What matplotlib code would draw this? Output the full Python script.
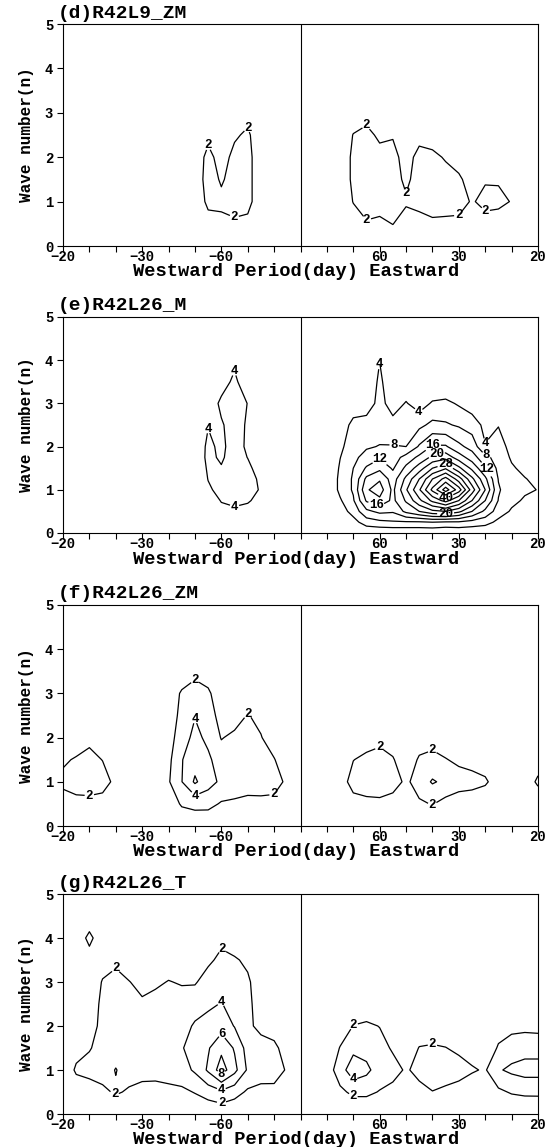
import numpy as np
import matplotlib.pyplot as plt

plt.rcParams['font.family'] = ['Liberation Mono', 'DejaVu Sans Mono']
plt.rcParams['font.weight'] = 'bold'

# frequency columns in units of 1/180 cycles per day, wave number rows
cols = np.arange(-9, 9.5, 0.5)
rows = [0, 0.5, 1, 1.5, 2, 2.5, 3, 3.5, 4, 4.5, 5]
rows_e = [0, 0.25, 0.5, 0.75, 1, 1.25, 1.5, 1.75, 2, 2.5, 3, 3.5, 4, 4.5, 5]

# each block: first column (1/180 cpd), then one list per column, bottom row first
d_left = (-4.5, [
    [0, 0, 0, 0, 0, 0, 0],
    [0, 0.3, 0.2, 0.2, 0.1, 0, 0],
    [0, 1.0, 2.6, 3.2, 2.9, 1.2, 0],
    [0.5, 1.3, 2.6, 1.7, 0.8, 0.3, 0],
    [0.8, 1.6, 3.0, 3.0, 2.8, 1.6, 0.5],
    [0.5, 1.2, 3.0, 3.0, 3.0, 2.5, 1.0],
    [0, 0.2, 0, 0, 0, 0, 0],
])
d_right = (1.5, [
    [0, 0, 0, 0, 0, 0, 0],
    [0, 0.8, 2.1, 2.6, 2.6, 2.1, 0.5],
    [0.5, 1.8, 3.0, 3.0, 3.0, 2.6, 1.2],
    [0.3, 1.5, 3.0, 3.0, 2.7, 1.6, 0.5],
    [0.5, 2.05, 3.0, 3.0, 2.8, 1.8, 0.3],
    [0.3, 1.0, 2.3, 1.5, 1.0, 0.6, 0],
    [0.3, 0.8, 3.0, 3.0, 2.8, 1.2, 0],
    [0.3, 1.6, 3.0, 3.0, 2.5, 1.0, 0],
    [0.3, 1.5, 3.0, 2.8, 1.8, 0.5, 0],
    [0.3, 1.5, 2.8, 2.3, 1.2, 0.3, 0],
    [0.2, 1.0, 1.8, 1.2, 0.5, 0, 0],
    [0, 1.2, 2.6, 1.8, 0.5, 0, 0],
    [0, 1.0, 2.5, 1.8, 0.3, 0, 0],
    [0, 0.5, 1.9, 1.0, 0, 0, 0],
    [0, 0, 0, 0, 0, 0, 0],
])

e_left = (-4, [
    [0, 0, 0, 0.5, 1, 1, 1, 1, 0.5, 0, 0, 0, 0],
    [0, 0.5, 1.0, 2.0, 3.5, 4.1, 4.5, 5.0, 5.0, 3.8, 1.0, 0, 0],
    [0, 1.0, 3.0, 4.2, 5.0, 4.8, 4.3, 3.4, 3.0, 3.5, 5.0, 2.0, 0],
    [0.5, 2.0, 3.2, 5.0, 6.0, 6.0, 6.0, 6.0, 6.0, 6.0, 6.0, 5.0, 3.0],
    [0, 1.5, 2.5, 4.5, 6.0, 6.0, 5.0, 3.9, 3.2, 3.4, 3.9, 1.0, 0],
    [0, 0.5, 1.0, 2.5, 3.5, 3.0, 2.0, 1.0, 0.5, 0, 0, 0, 0],
])
e_right = (1, [
    [0, 0, 0, 0, 0, 0, 0, 0, 0, 0, 0, 0, 0],
    [0, 0, 2, 3.5, 5, 5, 4.5, 3.9, 3, 1, 0, 0, 0],
    [0, 2.5, 5.5, 7.5, 8.5, 8.5, 8, 7, 6.5, 5.5, 1, 0, 0],
    [0.5, 6, 11, 16.5, 19.5, 17, 12.5, 9.5, 7.5, 6, 1.5, 0, 0],
    [0.5, 7, 13, 19, 22, 19.5, 15, 11.5, 8.2, 6, 5.5, 5, 3.9],
    [0.5, 7.5, 12.5, 15, 15, 14, 11.5, 10, 8.2, 5.5, 2, 0.5, 0],
    [0.5, 7.5, 17, 20.5, 23.5, 21, 17, 13.5, 8, 6, 4.3, 1, 0],
    [0.5, 7.5, 20, 27, 31.5, 28, 22, 17, 12.5, 7, 2, 0, 0],
    [0.5, 8, 23, 33, 41, 36, 28, 21, 16.5, 9, 4.5, 0, 0],
    [0, 7.5, 24, 37.5, 50, 41.5, 31.5, 22.5, 16.5, 8.5, 5, 0, 0],
    [0.5, 7.5, 21, 32, 42, 34, 25, 18, 13, 7.5, 3.5, 0, 0],
    [0.5, 6.5, 16, 24, 30, 25, 19, 14, 10.5, 6, 2, 0, 0],
    [0.5, 5.5, 11, 16, 20, 17, 12.5, 9, 4.2, 3, 0, 0, 0],
    [0, 3, 6, 7.8, 8.5, 7.8, 7, 6.5, 6, 3.8, 0, 0, 0],
    [0, 1.5, 3.5, 5, 5.4, 5, 4.5, 3.5, 2.5, 1, 0, 0, 0],
    [0, 0.5, 2, 3.5, 4.6, 4.2, 3, 2, 1, 0, 0, 0, 0],
    [0, 0, 1, 2.5, 3.9, 3, 1.5, 1, 0, 0, 0, 0, 0],
])

f_a = (-9, [
    [0, 1.0, 2.5, 1.7, 0.5],
    [0, 1.3, 3.0, 2.2, 0.8],
    [0, 1.4, 3.0, 2.6, 1.5],
    [0, 1.2, 2.8, 1.95, 0.5],
    [0, 0.3, 1.5, 0.5, 0],
])
f_b = (-5.5, [
    [0, 0, 0.5, 0.3, 0.2, 0, 0, 0],
    [0, 0.5, 1.8, 1.5, 1.2, 1.0, 0.5, 0],
    [0, 2.3, 3.95, 3.9, 3.0, 2.5, 2.3, 0.5],
    [0.5, 2.6, 6.3, 5.2, 4.6, 3.9, 2.8, 1.5],
    [0.4, 2.6, 4.8, 4.4, 3.5, 3.0, 2.4, 0.8],
    [0, 1.8, 3.6, 2.9, 1.9, 1.2, 0.5, 0],
    [0, 1.7, 3.0, 2.7, 2.4, 1.2, 0.3, 0],
    [0, 1.5, 2.8, 2.8, 2.7, 2.1, 0.5, 0],
    [0, 1.6, 2.7, 2.5, 2.1, 1.5, 0.3, 0],
    [0, 1.7, 2.4, 2.1, 1.0, 0, 0, 0],
    [0, 0.8, 1.8, 0.8, 0, 0, 0, 0],
])
f_c = (1.5, [
    [0, 0, 1.0, 0, 0],
    [0, 1.2, 2.8, 1.95, 0.5],
    [0, 1.5, 3.0, 2.5, 1.0],
    [0, 1.6, 3.0, 2.8, 1.4],
    [0, 1.1, 2.9, 2.2, 0.8],
    [0, 0.3, 1.6, 0.5, 0],
    [0, 1.7, 2.93, 2.3, 0.8],
    [0.3, 2.1, 4.2, 2.6, 1.2],
    [0, 1.3, 3.57, 2.1, 0.8],
    [0, 0.9, 2.9, 1.6, 0.4],
    [0, 0.8, 2.7, 1.3, 0],
    [0, 0.5, 2.3, 1.0, 0],
    [0, 0, 1.0, 0, 0],
    [0, 0, 0, 0, 0],
    [0, 0, 1.0, 0, 0],
    [0, 0.8, 2.3, 1.2, 0],
])

g_left = (-9, [
    [0, 0, 0.5, 0, 0, 0, 0, 0, 0, 0],
    [0, 0.8, 2.3, 1.3, 0.8, 0.5, 0, 0, 0.5, 0],
    [0, 0.5, 3.0, 1.8, 0.8, 0.5, 0, 1.0, 2.6, 0.5],
    [0, 1.5, 3.0, 3.0, 2.8, 2.6, 2.2, 0.8, 0.5, 0],
    [0, 2.3, 1.9, 3.0, 3.0, 3.0, 2.8, 1.5, 0.3, 0],
    [0, 1.7, 3.0, 3.0, 3.0, 2.8, 2.1, 0.5, 0, 0],
    [0, 1.1, 3.0, 3.0, 3.0, 2.4, 1.2, 0, 0, 0],
    [0, 1.0, 3.0, 3.0, 3.0, 2.8, 1.6, 0, 0, 0],
    [0, 1.4, 3.0, 3.0, 3.0, 3.0, 2.1, 0.8, 0, 0],
    [0.3, 1.6, 3.2, 3.9, 3.4, 3.0, 1.8, 0.5, 0, 0],
    [0.5, 2.1, 4.3, 4.6, 4.2, 3.3, 1.8, 0.8, 0, 0],
    [0.4, 2.9, 6.3, 5.8, 4.8, 3.6, 2.9, 1.6, 0, 0],
    [0.5, 3.6, 9.0, 7.5, 5.2, 4.1, 3.2, 2.5, 1.5, 0],
    [0.3, 2.8, 6.6, 5.8, 3.9, 3.2, 2.8, 2.3, 0.5, 0],
    [0, 1.7, 3.7, 3.2, 2.3, 2.5, 2.4, 1.5, 0, 0],
    [0, 1.4, 3.0, 2.6, 1.6, 1.0, 0.5, 0, 0, 0],
    [0, 1.5, 2.8, 2.5, 1.0, 0, 0, 0, 0, 0],
    [0, 0.5, 1.8, 1.0, 0, 0, 0, 0, 0, 0],
])
g_right = (1, [
    [0, 0, 1.0, 0.3, 0, 0],
    [0, 1.6, 3.0, 2.1, 0.8, 0],
    [0.5, 2.4, 5.3, 3.4, 2.05, 0.8],
    [0.5, 2.4, 4.5, 3.2, 2.3, 0.8],
    [0.3, 1.9, 3.0, 2.6, 1.95, 0.5],
    [0, 1.5, 2.6, 1.8, 0.8, 0],
    [0, 0.5, 1.8, 0.5, 0, 0],
    [0, 1.5, 2.5, 2.1, 0.5, 0],
    [0.3, 1.95, 3.0, 2.2, 1.0, 0],
    [0, 1.6, 3.0, 2.05, 0.8, 0],
    [0, 1.2, 2.8, 1.6, 0.5, 0],
    [0, 0.8, 2.2, 1.2, 0, 0],
    [0, 0, 1.8, 0, 0, 0],
    [0, 1.6, 3.8, 2.3, 0.8, 0],
    [0, 2.2, 4.4, 3.0, 1.4, 0],
    [0.2, 2.4, 4.8, 3.2, 1.5, 0],
    [0.3, 2.4, 4.8, 3.2, 1.4, 0],
])

titles = ['(d)R42L9_ZM', '(e)R42L26_M', '(f)R42L26_ZM', '(g)R42L26_T']
levels = [[2], list(range(4, 52, 4)), [2, 4, 6], [2, 4, 6, 8]]

# label spots (1/180 cpd, wave number) per level
d_labels = {2: [(-3.45, 2.3), (-1.97, 2.76), (-2.5, 0.66), (2.47, 2.75),
                (4.0, 1.19), (2.47, 0.55), (6.03, 0.62), (6.98, 0.77)]}
e_labels = {4: [(-2.51, 3.75), (-3.48, 2.5), (-2.51, 0.59), (3.0, 3.9),
                (4.47, 2.8), (7.0, 2.0)],
            8: [(3.54, 1.98), (7.0, 1.75)],
            12: [(3.04, 1.73), (7.0, 1.46)],
            16: [(2.9, 0.69), (5.0, 2.06)],
            20: [(5.15, 1.83), (5.5, 0.43)],
            28: [(5.5, 1.6)],
            40: [(5.5, 0.8)]}
f_labels = {2: [(-8.0, 0.6), (-3.99, 3.35), (-2.0, 2.53), (-0.96, 0.67),
                (3.0, 1.8), (5.0, 1.72), (5.0, 0.47)],
            4: [(-4.0, 2.43), (-3.99, 0.68)]}
g_labels = {2: [(-7.02, 3.36), (-2.98, 3.74), (-7.0, 0.5), (-2.98, 0.22),
                (2.0, 2.02), (2.0, 0.41), (5.0, 1.6)],
            4: [(-2.98, 2.6), (-2.98, 0.48), (2.0, 0.79)],
            6: [(-2.98, 1.81)],
            8: [(-2.98, 0.81)]}

tick_pos = np.arange(-9, 10)
tick_txt = ['\u221220', '', '', '\u221230', '', '', '\u221260', '', '', '',
            '', '', '60', '', '', '30', '', '', '20']


def build(ys, blocks):
    z = np.zeros((len(ys), len(cols)))
    for k0, block in blocks:
        b = np.array(block, dtype=float).T
        j0 = int(round((k0 - cols[0]) * 2))
        z[:b.shape[0], j0:j0 + b.shape[1]] = b
    return z


fields = [
    (rows, build(rows, [d_left, d_right]), d_labels),
    (rows_e, build(rows_e, [e_left, e_right]), e_labels),
    (rows, build(rows, [f_a, f_b, f_c]), f_labels),
    (rows, build(rows, [g_left, g_right]), g_labels),
]

W, H = 557, 1147
boxes = [(24, 246), (317, 533), (605, 826), (894, 1114)]
xlab_drop = [30.5, 30.5, 30.5, 29.5]

fig = plt.figure(figsize=(W / 100, H / 100), dpi=100)
x = cols / 180.0

for i, (ys, z, labs) in enumerate(fields):
    top, bot = boxes[i]
    h = bot - top
    ax = fig.add_axes([63 / W, 1 - bot / H, 475 / W, h / H])
    ax.set_xlim(-0.05, 0.05)
    ax.set_ylim(0, 5)
    # one contour set per level, so each level can take its own labels
    for lev in levels[i]:
        cs = ax.contour(x, ys, z, levels=[lev], colors='k', linewidths=0.9)
        if lev in labs and len(cs.allsegs[0]) > 0:
            pts = [(k / 180.0, y) for k, y in labs[lev]]
            txt = ax.clabel(cs, manual=pts, inline=True, inline_spacing=1,
                            fmt='%d', fontsize=9)
            for t in txt:
                t.set_rotation(0)
                t.set_fontweight('bold')
    ax.axvline(0, color='k', lw=0.8)
    ax.set_xticks(tick_pos / 180.0)
    ax.set_xticklabels(tick_txt)
    ax.set_yticks(range(6))
    ax.tick_params(direction='out', length=4, width=0.8, labelsize=10)
    ax.tick_params(axis='x', pad=-0.8)
    ax.tick_params(axis='y', pad=3)
    for s in ax.spines.values():
        s.set_linewidth(0.8)
    ax.text(-0.012, 1 + 6.5 / h, titles[i], transform=ax.transAxes, ha='left',
            va='baseline', fontsize=14, fontweight='bold')
    ax.set_xlabel('Westward Period(day) Eastward', fontsize=13.5,
                  fontweight='bold', va='baseline')
    ax.xaxis.set_label_coords(0.49, -xlab_drop[i] / h)
    ax.set_ylabel('Wave number(n)', fontsize=11.5, fontweight='bold')
    ax.yaxis.set_label_coords(-0.062, 0.5)

fig.savefig('out.png', dpi=100)
